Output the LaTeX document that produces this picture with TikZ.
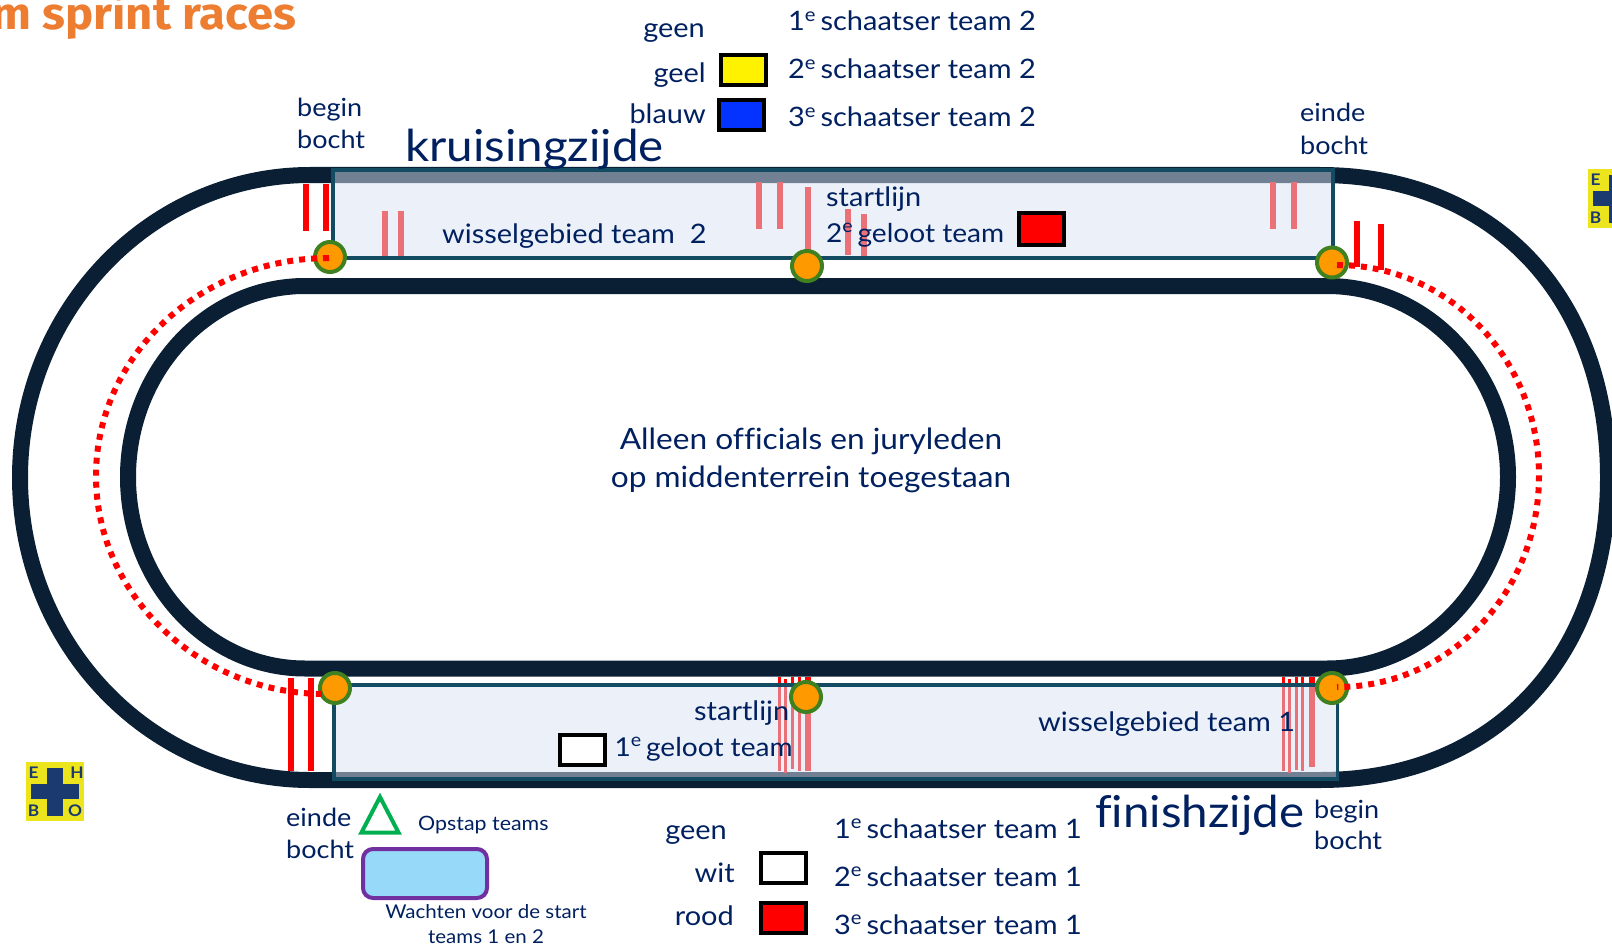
\documentclass[tikz,border=0pt]{standalone}
\usepackage{fontspec}
\setmainfont[FakeStretch=1.08]{Lato}
\newfontfamily\titlefont[FakeStretch=1.05]{Fira Sans}
\newcommand{\ordi}{\textsuperscript{e}\kern-3pt}
\definecolor{navy}{HTML}{002060}
\definecolor{track}{HTML}{0A1F33}
\definecolor{edge}{HTML}{134B63}
\definecolor{boxfill}{RGB}{217,227,243}
\definecolor{redline}{HTML}{FF0000}
\definecolor{dotorange}{HTML}{FF9900}
\definecolor{dotgreen}{HTML}{3F8020}
\definecolor{ehboy}{HTML}{ECE51E}
\definecolor{ehbob}{HTML}{1A3A70}
\definecolor{titleor}{HTML}{ED7D31}
\definecolor{swblue}{HTML}{0433FF}
\definecolor{tri}{HTML}{00B050}
\definecolor{waitfill}{HTML}{97D9F8}
\definecolor{waitedge}{HTML}{7030A0}
\tikzset{
  trackline/.style={draw=track,line width=16pt},
  redbar/.style={draw=redline,line width=6pt},
  thinbar/.style={draw=redline,line width=3pt},
  dotline/.style={draw=redline,line width=6pt,dash pattern=on 6pt off 6pt},
  zonebox/.style={fill=boxfill,fill opacity=.5,draw=edge,draw opacity=1,line width=3.5pt},
  marker/.style={circle,fill=dotorange,draw=dotgreen,line width=4pt,minimum size=30pt,inner sep=0pt},
  swatch/.style={rectangle,draw=black,line width=4pt,minimum width=45pt,minimum height=30pt,inner sep=0pt},
  lab/.style={anchor=base west,inner sep=0pt,text=navy,font=\fontsize{26.8}{26.8}\selectfont},
  labr/.style={lab,anchor=base east},
  geloot/.style={lab,font=\fontsize{26}{26}\selectfont},
  smalllab/.style={lab,font=\fontsize{25}{25}\selectfont},
  tinylab/.style={anchor=base,inner sep=0pt,text=navy,font=\fontsize{19}{19}\selectfont},
  midlab/.style={anchor=base,inner sep=0pt,text=navy,font=\fontsize{29.3}{29.3}\selectfont},
  biglab/.style={lab,font=\fontsize{44}{44}\selectfont},
  ehboletter/.style={inner sep=0pt,text=ehbob,font=\fontsize{16}{16}\selectfont\bfseries},
  ehbopatch/.style={fill=ehboy},
  ehbocross/.style={fill=ehbob},
}
\begin{document}
\begin{tikzpicture}[x=1pt,y=-1pt]
\useasboundingbox (0,0) rectangle (1612,947);
\clip (0,0) rectangle (1612,947);
% tracks
\draw[trackline] (310,175) -- (1320,175)
  .. controls (1493,175) and (1608,296) .. (1608,477.5)
  .. controls (1608,659) and (1493,780) .. (1320,780) -- (310,780)
  .. controls (150,780) and (20,644) .. (20,477.5)
  .. controls (20,311) and (150,175) .. (310,175) -- cycle;
\draw[trackline] (305,286) -- (1327,286)
  .. controls (1427,286) and (1508,372) .. (1508,477)
  .. controls (1508,582) and (1427,668.5) .. (1327,668.5) -- (305,668.5)
  .. controls (207,668.5) and (128,582) .. (128,477)
  .. controls (128,372) and (207,286) .. (305,286) -- cycle;
% red lines below the boxes
\draw[redbar] (306,184) -- (306,231);
\draw[redbar] (326,184) -- (326,231);
\draw[redbar] (1357,221) -- (1357,267);
\draw[redbar] (1381,224) -- (1381,270);
\draw[redbar] (291,678) -- (291,771);
\draw[redbar] (311,678) -- (311,771);
\draw[redbar] (385,211) -- (385,257);
\draw[redbar] (401,211) -- (401,257);
\draw[redbar] (759,182) -- (759,229);
\draw[redbar] (780,182) -- (780,229);
\draw[redbar] (808,187) -- (808,250);
\draw[redbar] (848,209) -- (848,255);
\draw[redbar] (864,214) -- (864,260);
\draw[redbar] (1273,182) -- (1273,229);
\draw[redbar] (1294,182) -- (1294,229);
\draw[thinbar] (779,677) -- (779,771);
\draw[thinbar] (785,679) -- (785,773);
\draw[thinbar] (792,677) -- (792,769);
\draw[thinbar] (799,677) -- (799,771);
\draw[redbar] (808,677) -- (808,771);
\draw[thinbar] (1283,677) -- (1283,771);
\draw[thinbar] (1289,679) -- (1289,773);
\draw[thinbar] (1296,677) -- (1296,770);
\draw[thinbar] (1302,677) -- (1302,771);
\draw[redbar] (1312,677) -- (1312,767);
% boxes
\path[zonebox] (333,170) rectangle (1333,258);
\path[zonebox] (334,685) rectangle (1337.5,779);
% markers
\node[marker] (tl) at (330,257) {};
\node[marker] (tm) at (807,266) {};
\node[marker] (tr) at (1332,262.5) {};
\node[marker] (bl) at (335,688) {};
\node[marker] (bm) at (806,697) {};
\node[marker] (br) at (1332,688) {};
% dotted lines
\coordinate (dtl) at (329,258);
\coordinate (dbl) at (325,694);
\coordinate (dtr) at (1337,265);
\coordinate (dbr) at (1337,687);
\draw[dotline] (dtl) .. controls (200,258) and (96,356) .. (96,476) .. controls (96,596) and (200,694) .. (dbl);
\draw[dotline] (dtr) .. controls (1450,265) and (1539,360) .. (1539,476) .. controls (1539,592) and (1450,687) .. (dbr);
% EHBO right (runs off the page)
\begin{scope}[shift={(1588,169)}]
  \fill[ehbopatch] (0,0) rectangle (58,59);
  \fill[ehbocross] (21,6) rectangle (37,54);
  \fill[ehbocross] (5,22) rectangle (53,37);
  \node[ehboletter] (re) at (7.5,11) {E};
  \node[ehboletter] (rb) at (7.5,49) {B};
\end{scope}
% EHBO left
\begin{scope}[shift={(26,762)}]
  \fill[ehbopatch] (0,0) rectangle (58,59);
  \fill[ehbocross] (21,6) rectangle (37,54);
  \fill[ehbocross] (5,22) rectangle (53,37);
  \node[ehboletter] (le) at (7.5,11) {E};
  \node[ehboletter] (lh) at (51,11) {H};
  \node[ehboletter] (lb) at (7.5,49) {B};
  \node[ehboletter] (lo) at (49,49) {O};
\end{scope}
% title
\node[anchor=base east,inner sep=0pt,text=titleor,font=\titlefont\bfseries\fontsize{45}{45}\selectfont] (title) at (296.5,30) {m sprint races};
% top legend
\node[labr] (g1) at (705,38) {geen};
\node[labr] (g2) at (706,83) {geel};
\node[labr] (g3) at (706,124) {blauw};
\node[swatch,fill=yellow] (s1) at (743.5,70) {};
\node[swatch,fill=swblue] (s2) at (741.5,115) {};
\node[lab] (t1) at (788,31) {1\ordi{} schaatser team 2};
\node[lab] (t2) at (788,79) {2\ordi{} schaatser team 2};
\node[lab] (t3) at (788,127) {3\ordi{} schaatser team 2};
% top labels
\node[smalllab] (bb1) at (297,117) {begin};
\node[smalllab] (bb2) at (297,149) {bocht};
\node[biglab] (kz) at (405,162) {kruisingzijde};
\node[lab] (wg2) at (442,243) {wisselgebied team\ \ 2};
\node[lab] (sl2) at (826,206) {startlijn};
\node[geloot] (gt2) at (826,242) {2\ordi{} geloot team};
\node[swatch,fill=red,minimum height=32pt] (s3) at (1041.5,229) {};
\node[smalllab] (eb1) at (1300,122) {einde};
\node[smalllab] (eb2) at (1300,154) {bocht};
% centre
\node[midlab] (m1) at (811,449) {Alleen of\kern0pt f\kern0pt icials en juryleden};
\node[midlab] (m2) at (811,487) {op middenterrein toegestaan};
% bottom box labels
\node[lab] (sl1) at (694,720) {startlijn};
\node[swatch,fill=white] (s4) at (582.5,750) {};
\node[geloot] (gt1) at (614.5,756) {1\ordi{} geloot team};
\node[lab] (wg1) at (1038,731) {wisselgebied team 1};
% bottom left
\node[smalllab] (eb3) at (286,826) {einde};
\node[smalllab] (eb4) at (286,858) {bocht};
\draw[draw=tri,line width=4pt,line join=miter] (380,797) -- (398.5,832.5) -- (361.5,832.5) -- cycle;
\node[lab,font=\fontsize{19.8}{19.8}\selectfont] (op) at (418,830) {Opstap teams};
\node[rectangle,rounded corners=10pt,fill=waitfill,draw=waitedge,line width=4pt,minimum width=124pt,minimum height=49pt,inner sep=0pt] (wait) at (425,873.5) {};
\node[tinylab] (w1) at (486,918) {Wachten voor de start};
\node[tinylab] (w2) at (486,943) {teams 1 en 2};
% bottom legend
\node[labr] (h1) at (727,839) {geen};
\node[labr] (h2) at (735,882) {wit};
\node[labr] (h3) at (734,925) {rood};
\node[swatch,fill=white] (s5) at (783,867.5) {};
\node[swatch,fill=red] (s6) at (783,918) {};
\node[lab] (u1) at (834,838) {1\ordi{} schaatser team 1};
\node[lab] (u2) at (834,886) {2\ordi{} schaatser team 1};
\node[lab] (u3) at (834,934) {3\ordi{} schaatser team 1};
\node[biglab,font=\fontsize{44}{44}\selectfont] (fz) at (1095,827) {f\kern0pt inishzijde};
\node[smalllab] (bb3) at (1314,818) {begin};
\node[smalllab] (bb4) at (1314,849) {bocht};
\end{tikzpicture}
\end{document}
